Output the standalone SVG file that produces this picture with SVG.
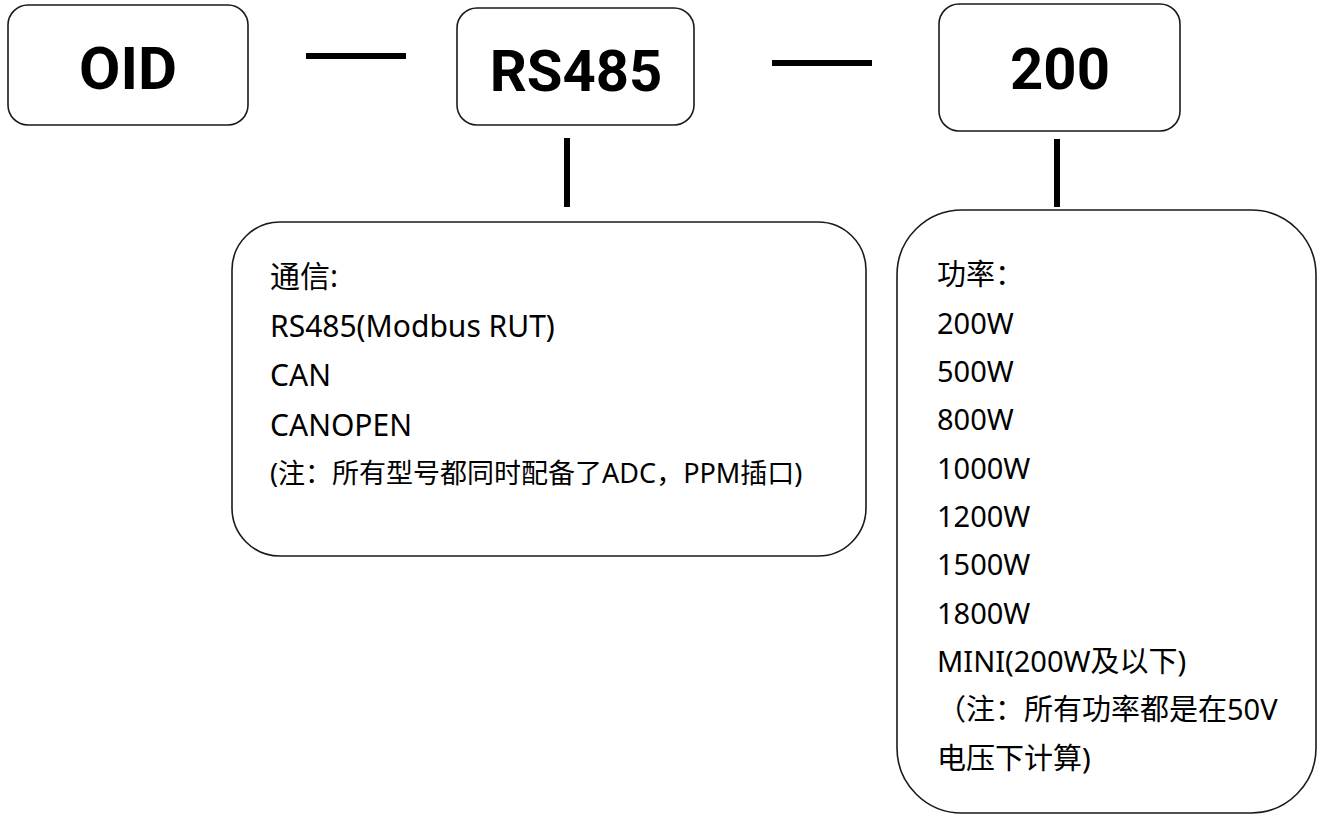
<svg xmlns="http://www.w3.org/2000/svg" width="1322" height="814" viewBox="0 0 1322 814">
<style>
.box{fill:#ffffff;stroke:#1a1a1a;stroke-width:1.6}
.title{font-family:Roboto,"Noto Sans",sans-serif;font-weight:bold;fill:#000;text-anchor:middle}
.body{font-family:"Noto Sans","Noto Sans CJK SC",sans-serif;fill:#000}
.conn{stroke:#000;stroke-width:6;fill:none}
</style>
<rect width="1322" height="814" fill="#ffffff"/>
<g id="node-oid">
<rect class="box" x="8" y="5" width="240" height="120" rx="20" ry="20"/>
<text class="title" x="128" y="89" font-size="60">OID</text>
</g>
<g id="node-rs485">
<rect class="box" x="457" y="8" width="237" height="117" rx="20" ry="20"/>
<text class="title" x="576" y="91" font-size="58">RS485</text>
</g>
<g id="node-200">
<rect class="box" x="939" y="4" width="241" height="127" rx="20" ry="20"/>
<text class="title" x="1060" y="89" font-size="58">200</text>
</g>
<g id="node-comm">
<rect class="box" x="232" y="222" width="634" height="334" rx="48" ry="48"/>
<text class="body" font-size="30">
<tspan x="270" y="287">通信:</tspan>
<tspan x="270" y="337">RS485(Modbus RUT)</tspan>
<tspan x="270" y="386">CAN</tspan>
<tspan x="270" y="436">CANOPEN</tspan>
</text>
<text class="body" font-size="27" x="270" y="483">(注：所有型号都同时配备了ADC，PPM插口)</text>
</g>
<g id="node-power">
<rect class="box" x="897" y="210" width="419" height="603" rx="65" ry="65"/>
<text class="body" font-size="29">
<tspan x="937" y="285">功率：</tspan>
<tspan x="937" y="334">200W</tspan>
<tspan x="937" y="382">500W</tspan>
<tspan x="937" y="430">800W</tspan>
<tspan x="937" y="479">1000W</tspan>
<tspan x="937" y="527">1200W</tspan>
<tspan x="937" y="575">1500W</tspan>
<tspan x="937" y="624">1800W</tspan>
<tspan x="937" y="672">MINI(200W及以下)</tspan>
<tspan x="937" y="720">（注：所有功率都是在50V</tspan>
<tspan x="937" y="769">电压下计算)</tspan>
</text>
</g>
<g id="connectors">
<line class="conn" x1="306" y1="56" x2="406" y2="56"/>
<line class="conn" x1="772" y1="63" x2="872" y2="63"/>
<line class="conn" x1="567" y1="138" x2="567" y2="207"/>
<line class="conn" x1="1057" y1="139" x2="1057" y2="207" stroke-width="7"/>
</g>
</svg>
